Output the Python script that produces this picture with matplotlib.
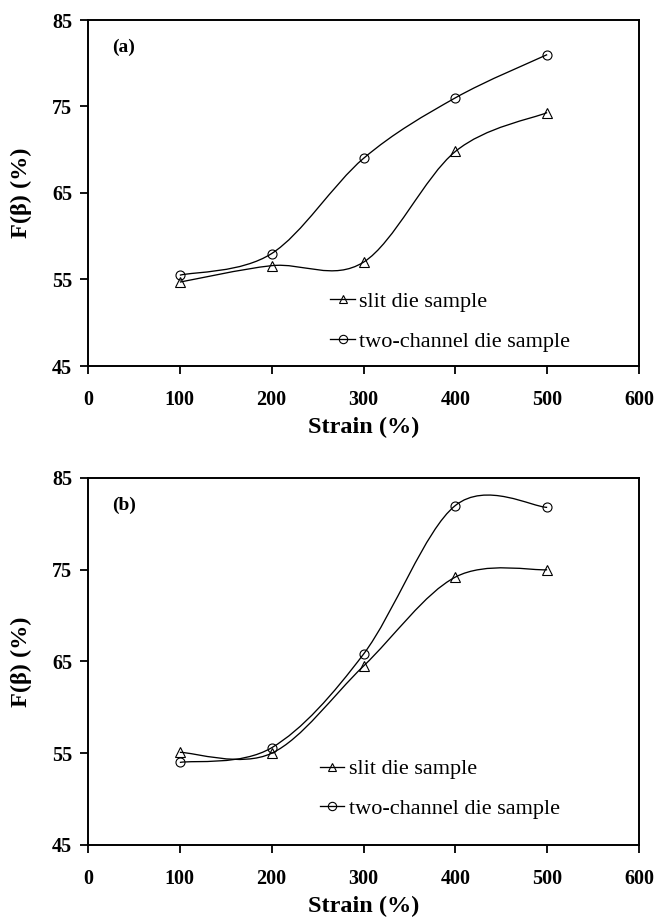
import numpy as np
import matplotlib
matplotlib.use("Agg")
import matplotlib.pyplot as plt
from matplotlib.path import Path
from matplotlib.patches import PathPatch
from matplotlib.lines import Line2D

plt.rcParams['font.family'] = ['Liberation Serif', 'DejaVu Serif']

strain = [100, 200, 300, 400, 500]
slit_a = [54.7, 56.6, 57.0, 69.8, 74.3]
two_a = [55.5, 58.0, 69.0, 76.0, 81.0]
slit_b = [55.1, 55.0, 64.5, 74.2, 75.0]
two_b = [54.0, 55.6, 65.8, 82.0, 81.8]

series_labels = ["slit die sample", "two-channel die sample"]
panel_tags = ["(a)", "(b)"]
xticks = [0, 100, 200, 300, 400, 500, 600]
yticks = [45, 55, 65, 75, 85]


def smooth_path(x, y):
    """Catmull-Rom style smoothed curve (as in spreadsheet 'smoothed line')."""
    P = np.column_stack([x, y]).astype(float)
    n = len(P)
    verts = [P[0]]
    codes = [Path.MOVETO]
    for i in range(n - 1):
        p0 = P[i - 1] if i > 0 else P[i]
        p1 = P[i]
        p2 = P[i + 1]
        p3 = P[i + 2] if i + 2 < n else P[i + 1]
        c1 = p1 + (p2 - p0) / 6.0
        c2 = p2 - (p3 - p1) / 6.0
        verts += [c1, c2, p2]
        codes += [Path.CURVE4] * 3
    return Path(verts, codes)


fig = plt.figure(figsize=(6.55, 9.21), dpi=100)
W, H = 655, 921
# axes boxes in pixels: left, top, right, bottom
boxes = [(88, 20, 639, 366), (88, 478, 639, 845)]
legend_anchor = [(0.44, 0.215), (0.421, 0.235)]
data = [(slit_a, two_a), (slit_b, two_b)]

for k, (l, t, r, b) in enumerate(boxes):
    ax = fig.add_axes([l / W, 1 - b / H, (r - l) / W, (b - t) / H])
    ax.set_xlim(0, 600)
    ax.set_ylim(45, 85)
    ax.set_xticks(xticks)
    ax.set_yticks(yticks)
    for lab in ax.get_xticklabels() + ax.get_yticklabels():
        lab.set_fontfamily('Liberation Serif')
        lab.set_fontweight('bold')
        lab.set_fontsize(14.5)
    ax.tick_params(direction='out', length=6, width=1.3, top=False, right=False)
    ax.tick_params(axis='x', pad=11.5)
    ax.tick_params(axis='y', pad=5.5)
    for sp in ax.spines.values():
        sp.set_linewidth(1.4)
    markers = ['^', 'o']
    handles = []
    for s, (yvals, m) in enumerate(zip(data[k], markers)):
        patch = PathPatch(smooth_path(strain, yvals), facecolor='none', edgecolor='black', lw=0.95)
        ax.add_patch(patch)
        ax.plot(strain, yvals, linestyle='none', marker=m, ms=6.5,
                mfc='none', mec='black', mew=0.8)
        handles.append(Line2D([], [], color='black', lw=0.95, marker=m, ms=6,
                              mfc='none', mec='black', mew=0.8))
    ax.legend(handles, series_labels, loc='upper left', bbox_to_anchor=legend_anchor[k],
              frameon=False, prop=dict(family='Liberation Serif', size=16),
              handlelength=1.1, handletextpad=0.2, labelspacing=0.85, borderpad=0,
              borderaxespad=0)
    ax.text(0.043, 0.92 if k == 0 else 0.925, panel_tags[k], transform=ax.transAxes,
            fontsize=14, fontweight='bold', ha='left', va='center')
    ax.set_xlabel("Strain (%)", fontsize=17.5, fontweight='bold', labelpad=5)
    ax.set_ylabel("F(β) (%)", fontsize=17.5, fontweight='bold', labelpad=14)

fig.savefig("out.png", dpi=100)
